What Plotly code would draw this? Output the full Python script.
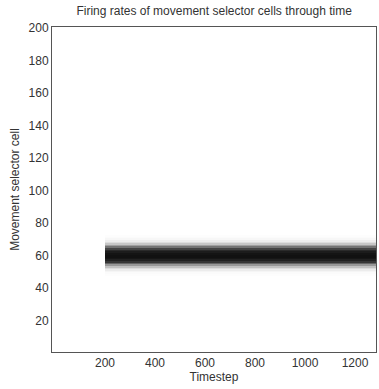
import numpy as np
import plotly.graph_objects as go

# Data
cells = list(range(1, 201))                      # movement selector cells
band_cells = list(range(48, 73))                 # cells that fire
band_rates = [0.01, 0.02, 0.05, 0.1, 0.18, 0.3, 0.45, 0.62, 0.78, 0.9, 0.97, 1.0,
              1.0, 0.98, 0.93, 0.85, 0.72, 0.57, 0.42, 0.28, 0.17, 0.09, 0.04, 0.02, 0.01]
onset_timestep = 200
t_end = 1284
bin_width = 4
timesteps = list(np.arange(bin_width / 2, t_end, bin_width))
x_ticks = [200, 400, 600, 800, 1000, 1200]
y_ticks = [20, 40, 60, 80, 100, 120, 140, 160, 180, 200]

profile = np.zeros(len(cells))
for c, r in zip(band_cells, band_rates):
    profile[cells.index(c)] = r
active = (np.array(timesteps) >= onset_timestep).astype(float)
z = np.outer(profile, active)

fig = go.Figure(go.Heatmap(
    x=timesteps, y=cells, z=z,
    colorscale=[[0, "#ffffff"], [0.25, "#cfcfcf"], [0.5, "#8a8a8a"],
                [0.75, "#3a3a3a"], [1, "#111111"]],
    zmin=0, zmax=1, showscale=False, hoverinfo="skip"))

font = "Liberation Sans, Arial, Helvetica, sans-serif"
fig.update_layout(
    width=379, height=389,
    margin=dict(l=52, r=3, t=27, b=37),
    paper_bgcolor="white", plot_bgcolor="white",
    font=dict(family=font, size=12, color="#333333"),
    title=dict(text="Firing rates of movement selector cells through time",
               x=0.565, xanchor="center", y=0.972, yanchor="middle",
               font=dict(size=12, color="#333333")),
)
fig.update_xaxes(range=[-12, t_end], tickvals=x_ticks, ticks="", showgrid=False,
                 zeroline=False, showline=True, linecolor="#555555", linewidth=1,
                 mirror=True, title=dict(text="Timestep", standoff=2,
                                         font=dict(size=12)))
fig.update_yaxes(range=[0.5, 200.5], tickvals=y_ticks, ticks="", showgrid=False,
                 zeroline=False, showline=True, linecolor="#555555", linewidth=1,
                 mirror=True, title=dict(text="Movement selector cell", standoff=6,
                                         font=dict(size=12)))

fig.write_html("out.html")
